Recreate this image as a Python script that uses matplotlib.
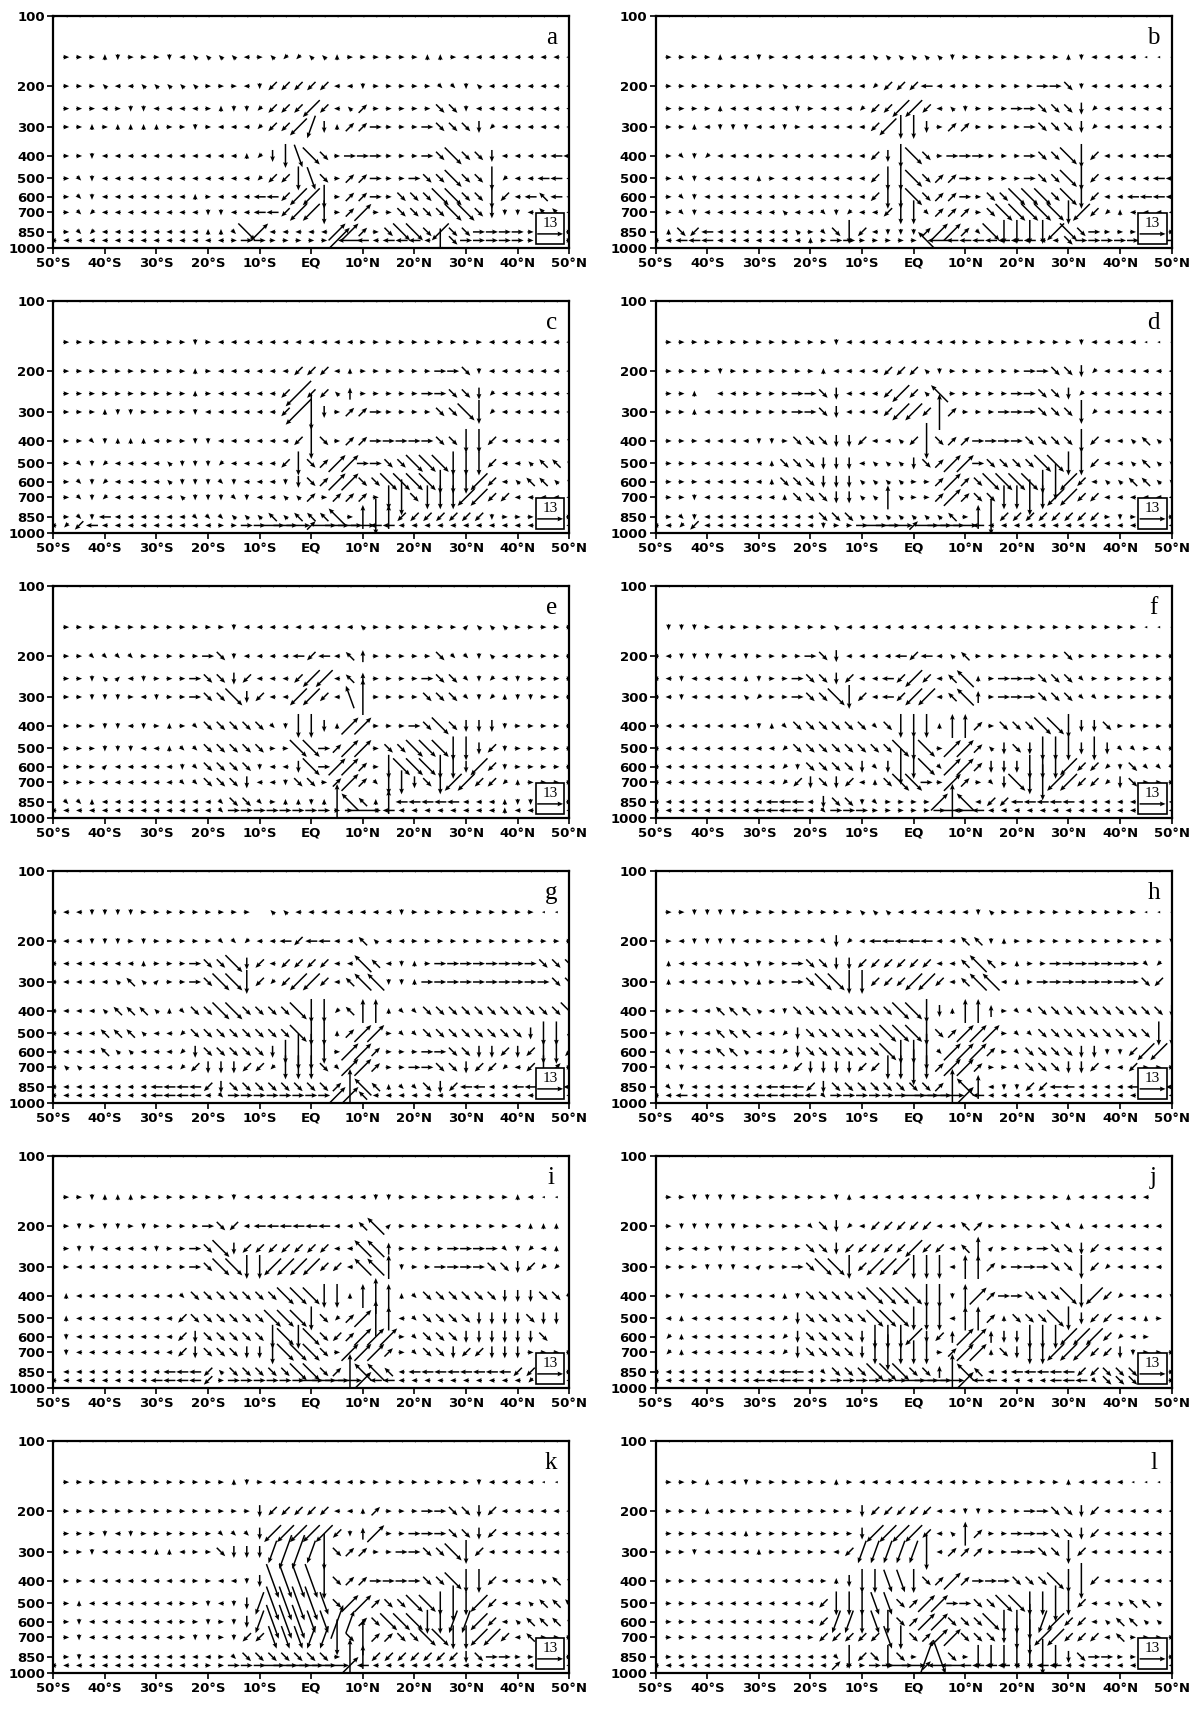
import numpy as np
import matplotlib
matplotlib.use("Agg")
import matplotlib.pyplot as plt
from matplotlib.patches import Rectangle
from matplotlib.ticker import NullLocator

# grid of the cross sections
LONS = [-50.0, -47.5, -45.0, -42.5, -40.0, -37.5, -35.0, -32.5, -30.0, -27.5,
        -25.0, -22.5, -20.0, -17.5, -15.0, -12.5, -10.0, -7.5, -5.0, -2.5,
        0.0, 2.5, 5.0, 7.5, 10.0, 12.5, 15.0, 17.5, 20.0, 22.5,
        25.0, 27.5, 30.0, 32.5, 35.0, 37.5, 40.0, 42.5, 45.0, 47.5, 50.0]
LEVELS = [100, 150, 200, 250, 300, 400, 500, 600, 700, 850, 925, 1000]

XTICKS = [-50, -40, -30, -20, -10, 0, 10, 20, 30, 40, 50]
XLABELS = ['50°S', '40°S', '30°S', '20°S', '10°S', 'EQ',
           '10°N', '20°N', '30°N', '40°N', '50°N']
YTICKS = [100, 200, 300, 400, 500, 600, 700, 850, 1000]
REF_SPEED = 13

# vectors, one character per grid point
# digits = tiny arrow, lower case = medium, upper case = long, kiuyhbnm = very long
# keypad / keyboard layout gives the direction on the page
# (first char is 50S, then groups of four points up to each 10 degree tick)
ROW_100 = "- ---- ---- ---- ---- ---- ---- ---- ---- ---- ----"
ROW_1000 = "- ---- ---- ---- ---- ---- ---- ---- ---- ---- ----"

PANEL_A = [
    ROW_100,
    "5 6668 2666 2477 7746 7117 7866 6666 8864 4444 4444",
    "5 6667 4477 7776 6642 zzzz z442 6666 6332 7444 4444",
    "5 6664 6224 4446 8221 zzzZ z47e 6666 6cc2 4444 4444",
    "5 6686 8888 6626 4441 zzZV x8ee d666 dccc x144 4444",
    "5 6624 4444 4444 4481 xXBC c6dd d666 dcCc cx44 44aa",
    "5 6324 4444 4444 4441 zzXB c6ee d66d ccCc cX14 4aa4",
    "5 6324 4444 4486 444a azZZ X6ee d6cc cCCc cXz4 aqa4",
    "5 6314 4444 4442 244a azZZ X6eE 66cc ccCC cx22 4qq4",
    "5 6314 4444 4448 83CE 4444 4EEe 6cCC cZcc dddd 6666",
    "4 4444 4444 4444 46dd 6666 6iAa 4aaa 4Xcd dddd 6666",
    ROW_1000]

PANEL_B = [
    ROW_100,
    "5 6666 8442 6444 4444 7777 7726 6666 6668 2444 4---",
    "5 6666 6666 6746 4444 1zzz a446 6666 6ddc 2444 4444",
    "5 6666 8444 4426 4441 zzZZ z472 666d dccc x144 4444",
    "5 6684 2224 4264 4444 zZXX x6ee 6666 dccc x144 4444",
    "5 6321 4444 6444 4444 zxXC c6dd d666 dccC Xz44 44aa",
    "5 6324 4448 6444 4444 zXXC ceed 6666 dccC Xz44 44aa",
    "5 6324 4444 4464 4444 zXXC ceed 6ccC CCcC Xz44 aaaa",
    "5 6324 4444 4744 3214 4zXX 3eee 6cCC CCCX Zz18 4444",
    "5 8cza 4444 4476 3cXz 4222 eEEe 3CXX XXZC cd66 6666",
    "4 4aaa 4444 4448 6dd6 6666 QAaa aaaa a44c dddd dddd",
    ROW_1000]

PANEL_C = [
    ROW_100,
    "5 6666 6666 6626 4444 4444 4446 6666 6666 6444 4444",
    "5 6666 6666 6686 4444 44zz z486 6666 6ddc 2444 4444",
    "5 6666 6666 6686 4444 4zbz z7w6 6666 ddcc x144 4444",
    "5 6668 2266 6624 4444 4zbn x6ee d666 6ccC X144 4444",
    "5 6632 8884 6622 4444 44zn c6ee dddd dccX Xz44 4447",
    "5 6321 4444 7222 1444 4zXc eEEd dccC CCXX Xz44 7qq7",
    "5 6321 4444 7222 3244 42xc eEEc cCCC CXXX Zz47 qq77",
    "5 6321 4444 4722 2324 477e 6eee 6Xnc XXXZ Zzz4 4444",
    "5 632a 4444 4433 3777 q7qq qQ6W nWzz zzzz z266 6666",
    "4 1za4 4444 4444 66dd DDDe DDDD aa44 4444 4444 4444",
    ROW_1000]

PANEL_D = [
    ROW_100,
    "5 6666 6666 6666 6244 4444 4446 6666 6666 2444 4---",
    "5 6666 2666 6666 8444 4zzz 7266 6666 ddcc x144 4444",
    "5 6685 4466 66dd cx44 4zZz 7Q66 666d dccx 1444 4444",
    "5 6684 4466 66dd cx44 4zZZ zue6 66dd dccc X144 4444",
    "5 6664 4442 26cc cxxz 447z ncee dddd cccc Xz44 7q72",
    "5 6664 4444 8ccc xxx4 777x ceEE dccc cCCX Xz44 7q77",
    "5 6664 4444 8ccc xxx7 7776 6eEe cCCC CXnZ z477 qq77",
    "5 6624 4444 48cc cxx7 7W76 6eEe ccXX nXZZ zz44 4444",
    "5 6324 4444 4444 ccc7 7777 77q6 Wnzz zzzz zz62 6666",
    "4 41z4 4444 4444 266d DDDe DDDD a444 4444 4444 4444",
    ROW_1000]

PANEL_E = [
    ROW_100,
    "5 6666 6666 6666 6244 4444 4447 6666 6669 7776 6666",
    "5 6633 3366 666d c244 44az a4qw 6666 6c33 2744 6666",
    "5 6627 9426 66dc cxz4 44zZ Z4qw 6666 dcc3 2142 6666",
    "5 6622 2642 66dc cCxz 44ZZ z4Tu 6666 ccc3 2182 2666",
    "5 6662 2426 863c cccc 32XX x8EE 666d cCcx xx26 6666",
    "5 6662 2244 833c cccc 66CC deEE 6ccC CCXX xz26 6666",
    "5 6669 4444 423c ccc2 44xC dEEe 6XCC CXXx Zz26 6666",
    "5 6664 4444 433c ccx4 42cc 6eEe 3XXx cXZZ zz18 6666",
    "5 3384 4444 4444 3cc3 6882 8uQq 8Waa aaa4 4482 2666",
    "4 4444 4444 4444 3ddd dddd d66k 4a44 4444 4484 4444",
    ROW_1000]

PANEL_F = [
    ROW_100,
    "5 2226 4666 6666 6744 4444 4444 6666 6666 6666 6---",
    "4 4222 2426 666d cx44 44az a47q 6666 666c 6666 6666",
    "4 4244 4482 66dc cxz4 4azZ z4qQ 86dd dccc 3666 6666",
    "4 4244 4471 66dc cCXz 4azZ Z4qQ w6dd dccc 3366 6666",
    "4 4444 4442 83cc cccc 3cXX X8WW e6cc cCCX xxc6 6666",
    "4 4444 4444 41cc cccc ccCX C6EE e7xc xXXX xXx3 3636",
    "4 4444 4444 412c cccx 3xnX C3EE exxx XXXZ zz12 c333",
    "4 4444 4444 41zx cxz4 8cCC d6Ee 63xC XnZZ zz1x c666",
    "4 4444 4444 aaa4 xcc2 3666 6EuQ 4zza aaaa 4444 4444",
    "4 4444 444a aaa4 3ddd 6666 6dDA a444 4444 4444 4444",
    ROW_1000]

PANEL_G = [
    ROW_100,
    "4 4422 2266 6666 6665 7744 4444 4426 6666 6666 6---",
    "4 4422 2626 6666 3314 4aza a44q 7446 6666 6666 6666",
    "4 4444 4486 66dc cCxz 4zzz z44Q q428 6ddd dddd dccc",
    "4 4444 7q79 66dc CCXz 1zZZ z4qQ Q228 dddd dddd ddcc",
    "4 4447 qqq7 83cc CCcc ccCX X1qW W833 cccc cccc cccC",
    "4 444q qq74 41cc cccc ccCX X8eE E633 cccc cccc xXXx",
    "4 444q 7744 41xc cccc xXnn X6EE e666 ddcc xxzx zXXz",
    "4 7744 4444 41zx xxzz 1XXX c3EE e66d dccx zz14 zXe6",
    "4 4444 444a aaaz xccc cccc ceuQ q833 cxza a44a aaaa",
    "4 4444 444a aaa4 3ddd dddd dEEq 4444 4444 4444 4444",
    ROW_1000]

PANEL_H = [
    ROW_100,
    "5 6622 2266 6666 6667 7744 4444 2766 6666 6666 6---",
    "5 6422 2246 6666 3x14 aaaa a44q q286 6666 6666 6662",
    "5 8444 4472 66dc cxxz zzzz z44q Qq68 66dd dddd d315",
    "5 8444 4778 66dc CCXX zzzZ Zz4q QQ48 6ddd dddd dcz5",
    "5 6644 qqq7 42cc cccc ccCC Xx8W Ww63 3ccc cccc cccx",
    "5 6244 qqq4 41xc cccc cCCC XceE EE63 3ccc cccc ccXX",
    "5 3244 qq74 41xc cccc cCXX n3EE Ee63 cccc xx22 zZZ5",
    "5 3244 4444 41zx xxxz zXXn XeEE e663 cccx xz44 z666",
    "5 3244 4444 aaaz xccc cccc ceuQ W422 zzaa 4444 aaaa",
    "4 4a44 444a aaaa 3ddd dddD DDDE a444 4444 4444 4444",
    ROW_1000]

PANEL_I = [
    ROW_100,
    "5 6628 8866 6666 6244 4444 4444 2266 6666 6668 4---",
    "5 6262 2626 666d cz4a aaaa a44q Q966 6666 6664 8885",
    "5 6224 4442 66dc Cxzz zzzz z44Q Qw66 66dd dd32 1485",
    "5 6444 4446 66dc CCXX ZZZZ zz4Q QW26 6ddd dccx z115",
    "5 8444 4444 43cc cccc cCCC XX8W uW83 cccc ccxx xcc3",
    "5 8444 4444 4zcc cccc CCCX c1eE uW43 cccc xxxx cxx5",
    "5 2444 4444 4zxc cccc XCXC czeE EE63 cccx xxxx xc55",
    "5 2444 4444 4zxc ccxx XCCC c6EE Ee63 ccxz zxxx 6666",
    "5 4444 4444 aaaz 7ccc ccCC ceuQ Qq4a aaaa aaaz z166",
    "4 4444 444a aaaz 6ddd dddD DDDE aa44 4444 4444 1444",
    ROW_1000]

PANEL_J = [
    ROW_100,
    "5 6622 2266 6666 6284 4444 4444 2666 6668 4444 4455",
    "5 6222 2266 6663 cx14 zzzz z44q e666 66c3 8444 4445",
    "5 6646 2246 666c cxzz zzzZ zz4q W966 6dcc xz44 4445",
    "5 6662 2249 66dc CCXz ZZZX XX4W We6d ddcc Xz14 4445",
    "5 6244 4444 482c cccc CCCC XX2W Eedd cccC XZz1 4447",
    "5 4844 4444 41xc cccc CCCX XX4W We8c ccCX xzz4 4865",
    "5 1844 4444 41xc cccx XXXZ xzwE Ewxx XXXZ ZZz1 4655",
    "5 1844 4444 41xc cccx XnXX X6eE E8cx XXZZ Zzzx 2666",
    "4 4444 4444 4aa4 3ccc CCCc cwuQ q44a aaaa zzcc c366",
    "4 4444 444a aaa4 6ddd dddD DDDE aa44 44aa a3cc c666",
    ROW_1000]

PANEL_K = [
    ROW_100,
    "5 6666 6666 6666 6826 4444 4446 6666 6666 2444 4---",
    "5 6666 6666 6666 666x zzzz z448 e666 ddcc xz44 4444",
    "5 6662 4266 6666 333x ZZZZ Zz2w E66d ddcc xz44 4444",
    "5 6624 4448 8466 cxxx VvvV ncee 66dd ccCX z444 4444",
    "5 6644 4444 4466 442x gggg ncee dddd ccCX Xz44 47q7",
    "5 6844 4444 4662 42xV gggg BcEE eccC CXnX Zz44 7qqq",
    "5 6244 4444 4662 62xV gggB BrRe cCCC XXVV Zz47 qqq7",
    "5 6244 4444 4622 62zz BBBV Vncu eecc CCXX ZZz4 q666",
    "5 6244 4444 4444 63cc cccc c6uW zzzz zzzx cdd6 6666",
    "4 4444 4444 4446 6ddd DDDD DDEa 4444 4444 4444 4444",
    ROW_1000]

PANEL_L = [
    ROW_100,
    "5 6668 4426 6666 6864 4444 4446 6666 6668 4444 ----",
    "5 6668 4666 6666 666x zzzz z442 2666 ddcc xz44 4444",
    "5 6664 4486 6666 666x ZZZZ z47W e66d ddcc xz44 4444",
    "5 6624 4448 6666 64zV VVVV n4ee e66d dccX z444 4444",
    "5 6664 4444 4444 68xX XBBX ceEe dddc ccCX nz44 4444",
    "5 6664 4444 4444 zXXX BBce EEdd ccCC XXnX z447 qq75",
    "5 6664 4444 4444 zVVX BXce EEcc cCXX nVZz z47q q775",
    "5 6664 4444 4446 zzzz zBXc eEEc ccxX nZZz zz4q 6666",
    "5 6664 4444 4444 43Xz cXc6 rgc6 XXXX XnXx cdd6 6666",
    "4 4444 4444 4444 4e66 ddDD eAAa aaa4 4aa4 4444 4444",
    ROW_1000]

PANELS = [('a', PANEL_A), ('b', PANEL_B), ('c', PANEL_C), ('d', PANEL_D),
          ('e', PANEL_E), ('f', PANEL_F), ('g', PANEL_G), ('h', PANEL_H),
          ('i', PANEL_I), ('j', PANEL_J), ('k', PANEL_K), ('l', PANEL_L)]

# code -> (direction on page in degrees, speed)
COMPASS = [0, 45, 90, 135, 180, 225, 270, 315]
STEEP = [70, 110, 250, 290]
CODES = {'5': (0, 0.0), '-': (180, 1.5)}
for chars, speed in (("69874123", 3.0), ("dewqazxc", 6.0),
                     ("DEWQAZXC", 12.0), ("kiuyhbnm", 18.0)):
    for ch, ang in zip(chars, COMPASS):
        CODES[ch] = (ang, speed)
for chars, speed in (("RTVB", 12.0), ("rtvg", 18.0)):
    for ch, ang in zip(chars, STEEP):
        CODES[ch] = (ang, speed)


def decode(rows):
    n = len(LONS)
    u = np.zeros((len(LEVELS), n))
    w = np.zeros((len(LEVELS), n))
    for j, row in enumerate(rows):
        row = row.replace(' ', '')
        if len(row) != n:
            print('row', j, 'has', len(row), 'points')
        row = (row + '5' * n)[:n]
        for i, ch in enumerate(row):
            ang, speed = CODES.get(ch, (0, 0.0))
            u[j, i] = speed * np.cos(np.radians(ang))
            w[j, i] = speed * np.sin(np.radians(ang))
    mask = np.hypot(u, w) == 0
    return np.ma.array(u, mask=mask), np.ma.array(w, mask=mask)


fig = plt.figure(figsize=(12, 17.1), dpi=100)
X, Y = np.meshgrid(LONS, LEVELS)

for k, (letter, rows) in enumerate(PANELS):
    r, c = divmod(k, 2)
    left = 0.0444 if c == 0 else 0.5464
    bottom = 1 - (248.3 + 285 * r) / 1710
    ax = fig.add_axes([left, bottom, 0.43, 232 / 1710])

    u, w = decode(rows)
    q = ax.quiver(X, Y, u, w, angles='uv', pivot='middle',
                  units='inches', width=0.015, scale_units='inches', scale=50,
                  headwidth=3.2, headlength=3.8, headaxislength=3.4,
                  color='black', zorder=2)

    ax.set_yscale('log')
    ax.set_xlim(-50, 50)
    ax.set_ylim(1000, 100)
    ax.set_yticks(YTICKS)
    ax.set_yticklabels([str(v) for v in YTICKS])
    ax.yaxis.set_minor_locator(NullLocator())
    ax.set_xticks(XTICKS)
    ax.set_xticklabels(XLABELS)
    ax.tick_params(direction='out', length=4, width=1.2, pad=2,
                   top=False, right=False)
    for lab in ax.get_xticklabels() + ax.get_yticklabels():
        lab.set_fontsize(9.5)
        lab.set_fontweight('bold')
    for sp in ax.spines.values():
        sp.set_linewidth(1.6)

    ax.text(0.965, 0.905, letter, transform=ax.transAxes, fontsize=18,
            family='Liberation Serif', ha='center', va='center')

    # reference vector box
    ax.add_patch(Rectangle((0.935, 0.018), 0.055, 0.135, transform=ax.transAxes,
                           facecolor='white', edgecolor='black', lw=1.2,
                           zorder=4))
    ax.quiverkey(q, 0.963, 0.062, REF_SPEED, str(REF_SPEED), labelpos='N',
                 coordinates='axes', labelsep=0.04, zorder=5,
                 fontproperties={'family': 'Liberation Serif', 'size': 11})

fig.savefig('out.png', dpi=100)
